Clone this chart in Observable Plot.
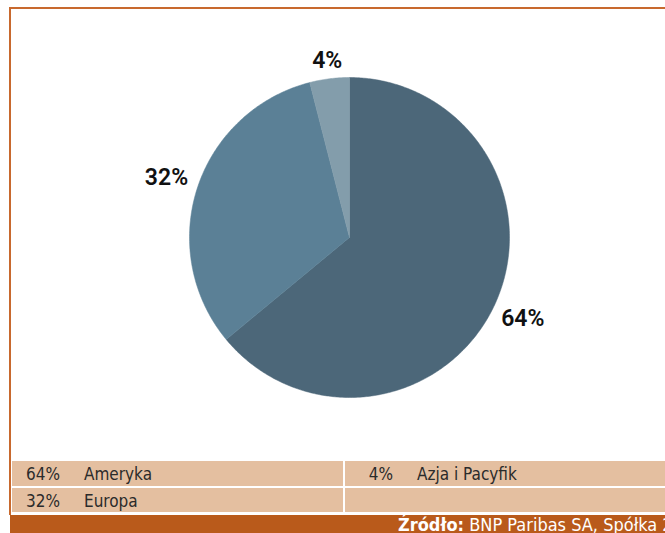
<!DOCTYPE html>
<html>
<head>
<meta charset="utf-8">
<script src="https://cdn.jsdelivr.net/npm/d3@7"></script>
<script src="https://cdn.jsdelivr.net/npm/@observablehq/plot@0.6"></script>
<style>
  html, body { margin: 0; padding: 0; background: #fff; }
  #page { position: relative; width: 665px; height: 533px; overflow: hidden; background: #fff; }
  #frame { position: absolute; left: 9px; top: 7px; width: 720px; height: 506px;
           border-left: 2px solid #c8692e; border-top: 2px solid #c8692e; }
  #chart { position: absolute; left: 0; top: 0; }
  .cell { position: absolute; background: #e4bfa0; height: 25px; line-height: 25px;
          font-family: "Liberation Sans Narrow", "DejaVu Sans Condensed", "DejaVu Sans", sans-serif;
          font-stretch: condensed; font-size: 17px; color: #2b2b2b; }
  .cell .pct { position: absolute; right: calc(100% - 48px); top: 1px; white-space: nowrap; }
  .cell .name { position: absolute; left: 72px; top: 1px; white-space: nowrap; }
  #footer { position: absolute; left: 10px; top: 515px; width: 720px; height: 22px; background: #b95a1b;
            font-family: "Liberation Sans Narrow", "DejaVu Sans Condensed", "DejaVu Sans", sans-serif;
            font-stretch: condensed; font-size: 18px; line-height: 22px; color: #fff; white-space: nowrap; }
  #footer span.src { position: absolute; left: 388px; top: -1px; }
</style>
</head>
<body>
<div id="page">
  <div id="frame"></div>
  <div id="chart"></div>
  <div id="legend"></div>
  <div id="footer"><span class="src"><b>Źródło:</b> <span id="srctext"></span></span></div>
</div>
<script>
// ---- data ----
const categories = ["Ameryka", "Europa", "Azja i Pacyfik"];
const shares = [64, 32, 4];
const shareLabels = ["64%", "32%", "4%"];
const colors = ["#4c6779", "#5b8096", "#839dab"];
const sourceText = "BNP Paribas SA, Spółka 2";

// ---- layout ----
const W = 665, H = 450, CX = 349, CY = 237, R = 160;

const rows = categories.map((name, i) => ({name, share: shares[i], label: shareLabels[i]}));
const arcs = d3.pie().sort(null).value(d => d.share)(rows);

// polygon outline of each slice (unit circle, y up)
const pts = [];
arcs.forEach(a => {
  const n = Math.max(2, Math.ceil((a.endAngle - a.startAngle) / 0.01));
  pts.push({name: a.data.name, x: 0, y: 0});
  for (let k = 0; k <= n; k++) {
    const t = a.startAngle + (a.endAngle - a.startAngle) * k / n;
    pts.push({name: a.data.name, x: Math.sin(t), y: Math.cos(t)});
  }
  pts.push({name: a.data.name, x: 0, y: 0});
});

// label placement just outside the pie
const fs = 23, gap = 8 / R;
const labelPts = arcs.map(a => {
  const m = (a.startAngle + a.endAngle) / 2;
  const dx = Math.sin(m), dy = Math.cos(m);
  const w = a.data.label.length * 15.5 / R, h = 20 / R;
  const ext = Math.min(Math.abs(dx) > 1e-6 ? (w / 2) / Math.abs(dx) : Infinity,
                       Math.abs(dy) > 1e-6 ? (h / 2) / Math.abs(dy) : Infinity);
  const r = 1 + gap + ext;
  return {label: a.data.label, x: dx * r, y: dy * r};
});

const plot = Plot.plot({
  width: W, height: H, margin: 0,
  x: {domain: [-CX / R, (W - CX) / R], axis: null},
  y: {domain: [(CY - H) / R, CY / R], axis: null},
  color: {domain: categories, range: colors},
  style: {background: "transparent", overflow: "visible"},
  marks: [
    Plot.line(pts, {x: "x", y: "y", z: "name", fill: "name", stroke: "name", strokeWidth: 0.5, curve: "linear"}),
    Plot.text(labelPts, {x: "x", y: "y", text: "label", fontSize: fs, fontWeight: 600,
      fontFamily: "Roboto, 'Liberation Sans', sans-serif", fill: "#111", textAnchor: "middle", lineAnchor: "middle"})
  ]
});
document.getElementById("chart").appendChild(plot);
document.getElementById("srctext").textContent = sourceText;

// ---- legend table (column-major, 2 rows) ----
const legend = document.getElementById("legend");
const nRows = 2, nCols = Math.ceil(categories.length / nRows);
const colLeft = [12, 345], colWidth = [331, 340], rowTop = [461, 488], rowH = [25, 24];
for (let c = 0; c < nCols; c++) {
  for (let r = 0; r < nRows; r++) {
    const i = c * nRows + r;
    const cell = document.createElement("div");
    cell.className = "cell";
    cell.style.left = colLeft[c] + "px";
    cell.style.width = colWidth[c] + "px";
    cell.style.top = rowTop[r] + "px";
    cell.style.height = rowH[r] + "px";
    cell.style.lineHeight = rowH[r] + "px";
    if (i < categories.length) {
      const p = document.createElement("span"); p.className = "pct"; p.textContent = shareLabels[i];
      const n = document.createElement("span"); n.className = "name"; n.textContent = categories[i];
      cell.appendChild(p); cell.appendChild(n);
    }
    legend.appendChild(cell);
  }
}
</script>
</body>
</html>
